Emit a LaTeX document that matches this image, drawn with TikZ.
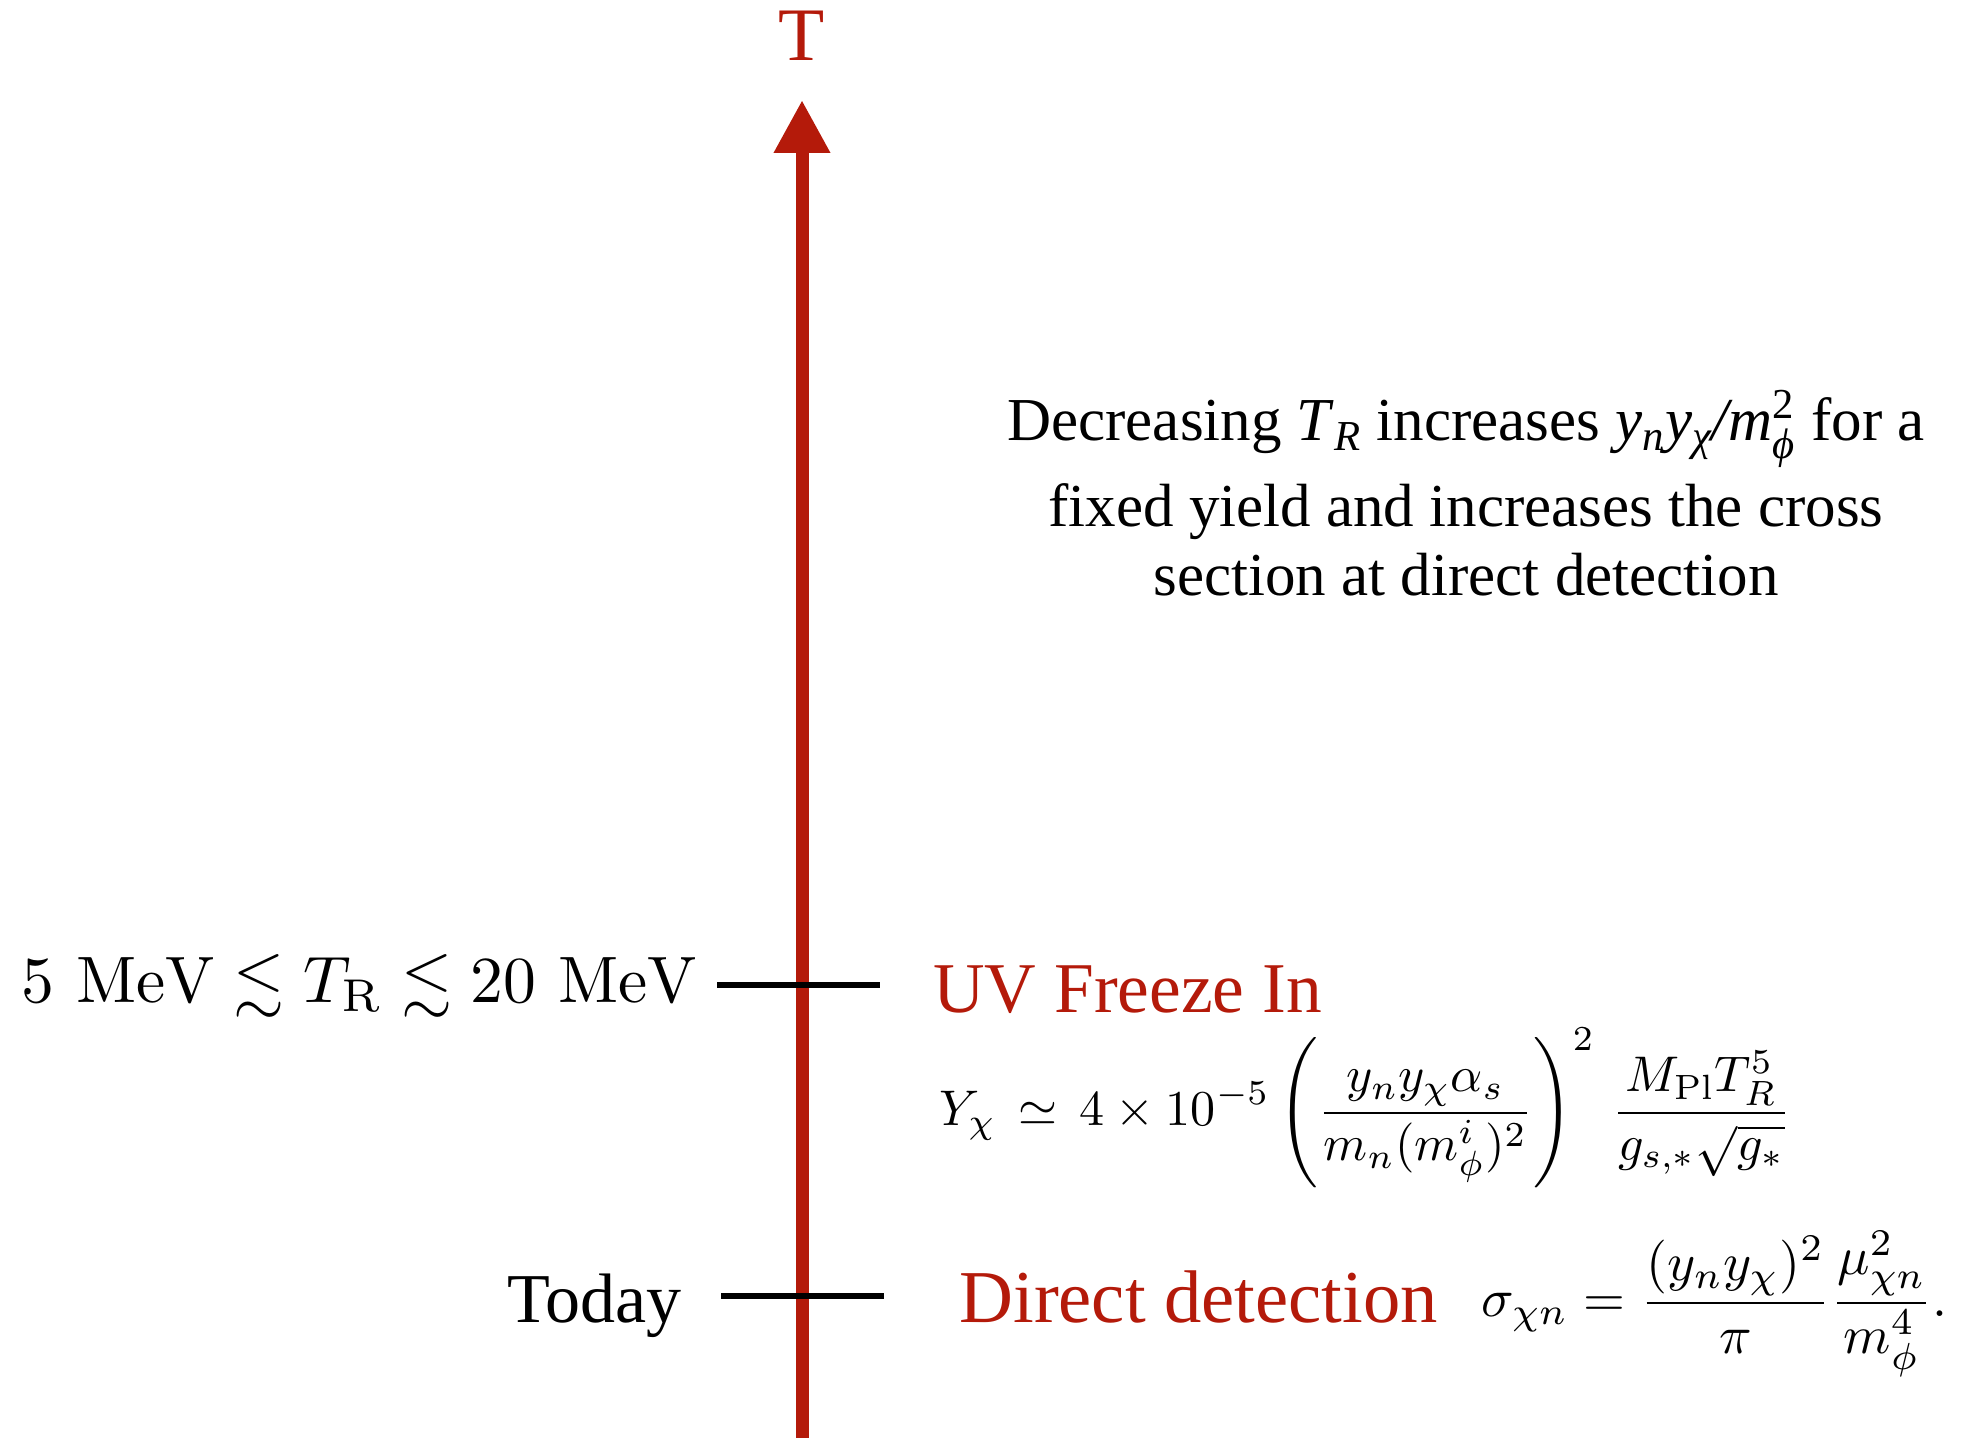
\RequirePackage{fix-cm}
\documentclass[tikz,border=0pt]{standalone}
\usepackage{amsmath,amssymb}
\usepackage{graphicx}
\usepackage[no-math]{fontspec}
\newfontfamily\tms{Liberation Serif}
\usetikzlibrary{arrows.meta}
\definecolor{axred}{RGB}{180,26,10}
\tikzset{
  ttext/.style={inner sep=0pt, font=\tms},
  tickline/.style={line width=2.6pt, black},
  axisline/.style={line width=6.5pt, axred, -{Triangle[length=26.5pt, width=26.5pt]}},
}
\begin{document}
\begin{tikzpicture}[x=0.5pt, y=-0.5pt]
\useasboundingbox (0,0) rectangle (1963,1438);
% axis
\coordinate (bot) at (802,1438);
\coordinate (top) at (802,100);
\draw[axisline] (bot) -- (top);
\node[ttext, text=axred, font=\tms\fontsize{37.8}{45}\selectfont] (tlabel) at (802,36) {T};
% ticks
\coordinate (t1a) at (717,985);
\coordinate (t1b) at (880,985);
\coordinate (t2a) at (721,1296);
\coordinate (t2b) at (884,1296);
\draw[tickline] (t1a) -- (t1b);
\draw[tickline] (t2a) -- (t2b);
% labels left
\node[anchor=base east, inner sep=0pt] (trange) at (698,1002)
  {\resizebox{338pt}{!}{$5~\mathrm{MeV} \lesssim T_{\mathrm{R}} \lesssim 20~\mathrm{MeV}$}};
\node[ttext, anchor=base east, font=\tms\fontsize{35}{42}\selectfont] (today) at (682,1322) {Today};
% right labels
\node[ttext, anchor=base west, text=axred, font=\tms\fontsize{35.7}{43}\selectfont] (uv) at (933,1012) {UV Freeze In};
\node[ttext, anchor=base west, text=axred, font=\tms\fontsize{37.3}{45}\selectfont] (dd) at (959,1322) {Direct detection};
\node[anchor=west, inner sep=0pt] (yform) at (939,1108)
  {\resizebox{425.5pt}{!}{$\displaystyle Y_\chi \,\simeq\, 4\times 10^{-5}\left(\frac{y_n y_\chi \alpha_s}{m_n (m_\phi^i)^2}\right)^{2}\,\frac{M_{\mathrm{Pl}}T_R^5}{g_{s,*}\sqrt{g_*}}$}};
\node[anchor=west, inner sep=0pt] (sform) at (1481,1304)
  {\resizebox{233pt}{!}{$\displaystyle \sigma_{\chi n} = \frac{(y_n y_\chi)^2}{\pi}\frac{\mu_{\chi n}^2}{m_\phi^4}.$}};
% paragraph
\node[ttext, anchor=base, font=\tms\fontsize{30.5}{36}\selectfont] (p1) at (1466,441)
  {Decreasing \textit{T}$_{\textit{R}}$ increases \textit{y}$_{\textit{n}}$\textit{y}$_{\textit{χ}}$\textit{/m}$^{\text{2}}_{\textit{ϕ}}$ for a};
\node[ttext, anchor=base, font=\tms\fontsize{30.5}{36}\selectfont] (p2) at (1466,526)
  {fixed yield and increases the cross};
\node[ttext, anchor=base, font=\tms\fontsize{30.5}{36}\selectfont] (p3) at (1466,595)
  {section at direct detection};
\end{tikzpicture}
\end{document}
